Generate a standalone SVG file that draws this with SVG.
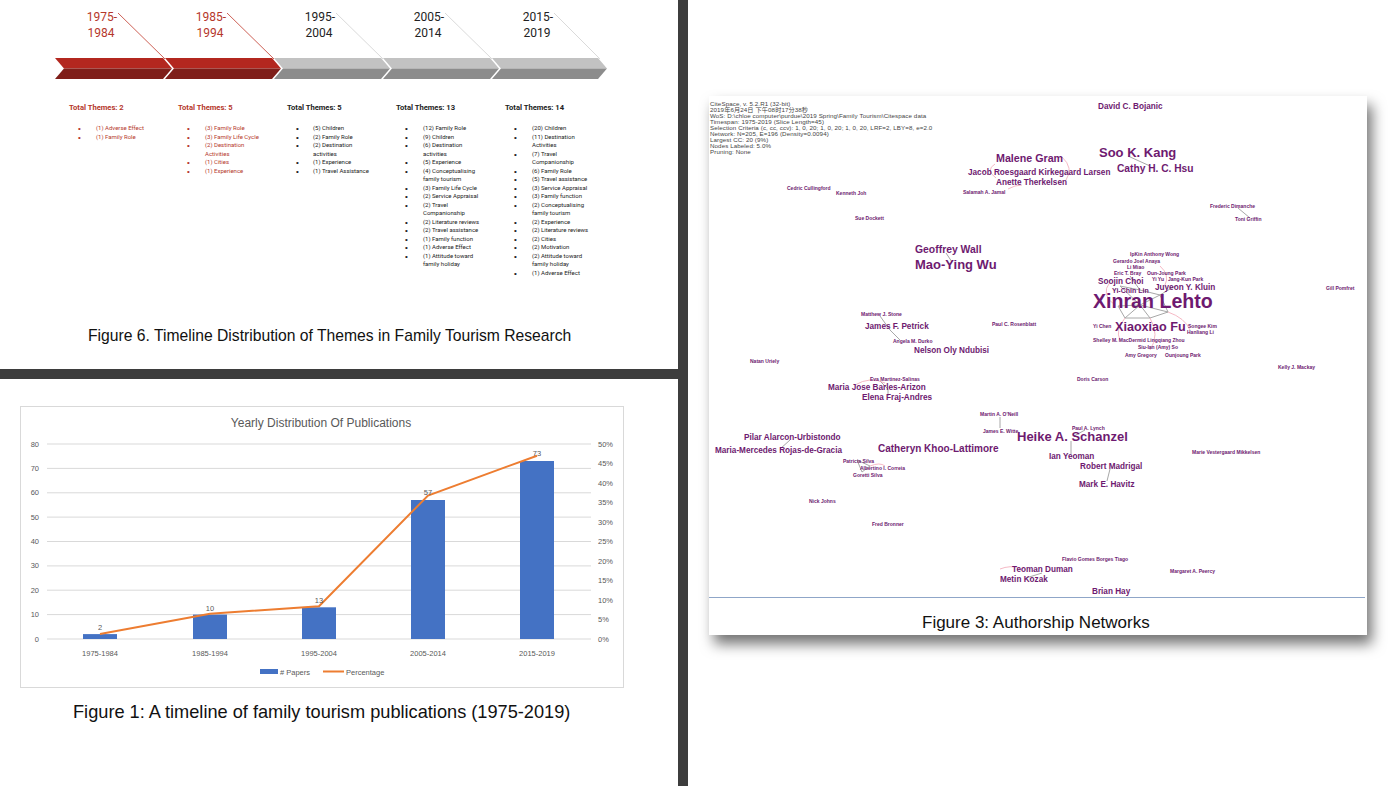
<svg xmlns="http://www.w3.org/2000/svg" width="1398" height="786" viewBox="0 0 1398 786">
<style>
.tl{font-family:Roboto,"Liberation Sans",sans-serif;font-size:12px;text-anchor:middle}
.red{fill:#b5372b}
.blk{fill:#222}
.th{font-family:Roboto,"Liberation Sans",sans-serif;font-size:7.6px;font-weight:bold}
.li{font-family:Roboto,"Liberation Sans",sans-serif;font-size:6px}
.bu{font-family:"Liberation Sans",sans-serif;font-size:8px}
.cap{font-family:"Liberation Sans",Arial,sans-serif;fill:#111}
.ax{font-family:"Liberation Sans",Arial,sans-serif;font-size:7.5px;fill:#595959}
.grid{stroke:#d9d9d9;stroke-width:1}
.hdr{font-family:"Liberation Sans","Noto Sans CJK SC",sans-serif;font-size:6.2px;fill:#444;letter-spacing:0.1px}
.nm{font-family:"Liberation Sans",Arial,sans-serif;font-weight:bold;fill:#6e1a70}
.n5{font-size:5px}
.n8{font-size:8.2px}
.n10{font-size:10.4px}
.n13{font-size:13px}
.ed{stroke:#a8a8a8;stroke-width:1;fill:none}
.pk{stroke:#f2a7b6;stroke-width:0.8;fill:none}
</style>
<defs>
<filter id="sh" x="-5%" y="-5%" width="112%" height="115%">
<feDropShadow dx="5" dy="9" stdDeviation="7" flood-color="#000" flood-opacity="0.55"/>
</filter>
</defs>
<rect x="0" y="0" width="1398" height="786" fill="#fff"/>
<rect x="678" y="0" width="10" height="786" fill="#3d3d3d"/>
<rect x="0" y="369" width="678" height="10" fill="#3d3d3d"/>

<g id="timeline">
<polygon points="55,58 163,58 172,68.5 64,68.5" fill="#b3271f"/>
<polygon points="64,68.5 172,68.5 163,79 55,79" fill="#7f1e19"/>
<polygon points="165,58 272,58 281,68.5 174,68.5" fill="#b3271f"/>
<polygon points="174,68.5 281,68.5 272,79 165,79" fill="#7f1e19"/>
<polygon points="274,58 381,58 390,68.5 283,68.5" fill="#c2c2c2"/>
<polygon points="283,68.5 390,68.5 381,79 274,79" fill="#8c8c8c"/>
<polygon points="383,58 490,58 499,68.5 392,68.5" fill="#c2c2c2"/>
<polygon points="392,68.5 499,68.5 490,79 383,79" fill="#8c8c8c"/>
<polygon points="492,58 598,58 607,68.5 501,68.5" fill="#c2c2c2"/>
<polygon points="501,68.5 607,68.5 598,79 492,79" fill="#8c8c8c"/>
<line x1="118" y1="13" x2="165" y2="59" stroke="#c0392b" stroke-width="0.8"/>
<line x1="227" y1="13" x2="274" y2="59" stroke="#c0392b" stroke-width="0.8"/>
<line x1="336" y1="13" x2="383" y2="59" stroke="#d0d0d0" stroke-width="0.8"/>
<line x1="445" y1="13" x2="492" y2="59" stroke="#d0d0d0" stroke-width="0.8"/>
<line x1="554" y1="13" x2="600" y2="59" stroke="#d0d0d0" stroke-width="0.8"/>
<text class="tl red" x="102" y="21">1975-</text><text class="tl red" x="101" y="37">1984</text>
<text class="tl red" x="211" y="21">1985-</text><text class="tl red" x="210" y="37">1994</text>
<text class="tl blk" x="320" y="21">1995-</text><text class="tl blk" x="319" y="37">2004</text>
<text class="tl blk" x="429" y="21">2005-</text><text class="tl blk" x="428" y="37">2014</text>
<text class="tl blk" x="538" y="21">2015-</text><text class="tl blk" x="537" y="37">2019</text>
</g>

<g id="themes1" class="red">
<text class="th" x="69" y="110">Total Themes: 2</text>
<g class="bu"><text x="78" y="131">•</text><text x="78" y="139.5">•</text></g>
<g class="li"><text x="96" y="130">(1) Adverse Effect</text>
<text x="96" y="138.5">(1) Family Role</text></g>
</g>
<g id="themes2" class="red">
<text class="th" x="178" y="110">Total Themes: 5</text>
<g class="bu"><text x="187" y="131">•</text><text x="187" y="139.5">•</text><text x="187" y="148">•</text><text x="187" y="165">•</text><text x="187" y="173.5">•</text></g>
<g class="li">
<text x="205" y="130">(3) Family Role</text>
<text x="205" y="138.5">(3) Family Life Cycle</text>
<text x="205" y="147">(2) Destination</text>
<text x="205" y="155.5">Activities</text>
<text x="205" y="164">(1) Cities</text>
<text x="205" y="172.5">(1) Experience</text></g>
</g>
<g id="themes3" class="blk">
<text class="th" x="287" y="110">Total Themes: 5</text>
<g class="bu"><text x="296" y="131">•</text><text x="296" y="139.5">•</text><text x="296" y="148">•</text><text x="296" y="165">•</text><text x="296" y="173.5">•</text></g>
<g class="li">
<text x="313" y="130">(5) Children</text>
<text x="313" y="138.5">(2) Family Role</text>
<text x="313" y="147">(2) Destination</text>
<text x="313" y="155.5">activities</text>
<text x="313" y="164">(1) Experience</text>
<text x="313" y="172.5">(1) Travel Assistance</text></g>
</g>
<g id="themes4" class="blk">
<text class="th" x="396" y="110">Total Themes: 13</text>
<g class="bu">
<text x="405" y="131">•</text><text x="405" y="139.5">•</text><text x="405" y="148">•</text>
<text x="405" y="165">•</text><text x="405" y="173.5">•</text><text x="405" y="190.5">•</text>
<text x="405" y="199">•</text><text x="405" y="207.5">•</text><text x="405" y="224.5">•</text>
<text x="405" y="233">•</text><text x="405" y="241.5">•</text><text x="405" y="250">•</text>
<text x="405" y="258.5">•</text></g>
<g class="li">
<text x="423" y="130">(12) Family Role</text>
<text x="423" y="138.5">(9) Children</text>
<text x="423" y="147">(6) Destination</text>
<text x="423" y="155.5">activities</text>
<text x="423" y="164">(5) Experience</text>
<text x="423" y="172.5">(4) Conceptualising</text>
<text x="423" y="181">family tourism</text>
<text x="423" y="189.5">(3) Family Life Cycle</text>
<text x="423" y="198">(2) Service Appraisal</text>
<text x="423" y="206.5">(2) Travel</text>
<text x="423" y="215">Companionship</text>
<text x="423" y="223.5">(2) Literature reviews</text>
<text x="423" y="232">(2) Travel assistance</text>
<text x="423" y="240.5">(1) Family function</text>
<text x="423" y="249">(1) Adverse Effect</text>
<text x="423" y="257.5">(1) Attitude toward</text>
<text x="423" y="266">family holiday</text></g>
</g>
<g id="themes5" class="blk">
<text class="th" x="505" y="110">Total Themes: 14</text>
<g class="bu">
<text x="514" y="131">•</text><text x="514" y="139.5">•</text><text x="514" y="156.5">•</text>
<text x="514" y="173.5">•</text><text x="514" y="182">•</text><text x="514" y="190.5">•</text>
<text x="514" y="199">•</text><text x="514" y="207.5">•</text><text x="514" y="224.5">•</text>
<text x="514" y="233">•</text><text x="514" y="241.5">•</text><text x="514" y="250">•</text>
<text x="514" y="258.5">•</text><text x="514" y="275.5">•</text></g>
<g class="li">
<text x="532" y="130">(20) Children</text>
<text x="532" y="138.5">(11) Destination</text>
<text x="532" y="147">Activities</text>
<text x="532" y="155.5">(7) Travel</text>
<text x="532" y="164">Companionship</text>
<text x="532" y="172.5">(6) Family Role</text>
<text x="532" y="181">(5) Travel assistance</text>
<text x="532" y="189.5">(3) Service Appraisal</text>
<text x="532" y="198">(3) Family function</text>
<text x="532" y="206.5">(2) Conceptualising</text>
<text x="532" y="215">family tourism</text>
<text x="532" y="223.5">(2) Experience</text>
<text x="532" y="232">(2) Literature reviews</text>
<text x="532" y="240.5">(2) Cities</text>
<text x="532" y="249">(2) Motivation</text>
<text x="532" y="257.5">(2) Attitude toward</text>
<text x="532" y="266">family holiday</text>
<text x="532" y="274.5">(1) Adverse Effect</text></g>
</g>
<text class="cap" x="88" y="341" font-size="15.7">Figure 6. Timeline Distribution of Themes in Family Tourism Research</text>

<g id="chart">
<rect x="20.5" y="406.5" width="603" height="281" fill="#fff" stroke="#d9d9d9"/>
<text x="321" y="427" font-family="'Liberation Sans',Arial,sans-serif" font-size="12" fill="#595959" text-anchor="middle">Yearly Distribution Of Publications</text>
<g class="grid">
<line x1="47" y1="444" x2="591" y2="444"/><line x1="47" y1="468.4" x2="591" y2="468.4"/>
<line x1="47" y1="492.8" x2="591" y2="492.8"/><line x1="47" y1="517.1" x2="591" y2="517.1"/>
<line x1="47" y1="541.5" x2="591" y2="541.5"/><line x1="47" y1="565.9" x2="591" y2="565.9"/>
<line x1="47" y1="590.2" x2="591" y2="590.2"/><line x1="47" y1="614.6" x2="591" y2="614.6"/>
<line x1="47" y1="639" x2="591" y2="639"/>
</g>
<g class="ax" text-anchor="end">
<text x="39" y="447">80</text><text x="39" y="471">70</text><text x="39" y="495">60</text>
<text x="39" y="520">50</text><text x="39" y="544">40</text><text x="39" y="568">30</text>
<text x="39" y="593">20</text><text x="39" y="617">10</text><text x="39" y="642">0</text>
</g>
<g class="ax">
<text x="598" y="447">50%</text><text x="598" y="466">45%</text><text x="598" y="486">40%</text>
<text x="598" y="505">35%</text><text x="598" y="525">30%</text><text x="598" y="544">25%</text>
<text x="598" y="564">20%</text><text x="598" y="583">15%</text><text x="598" y="603">10%</text>
<text x="598" y="622">5%</text><text x="598" y="642">0%</text>
</g>
<g fill="#4472c4">
<rect x="83" y="634.1" width="34" height="4.9"/>
<rect x="193" y="614.6" width="34" height="24.4"/>
<rect x="302" y="607.3" width="34" height="31.7"/>
<rect x="411" y="500" width="34" height="139"/>
<rect x="520" y="461" width="34" height="178"/>
</g>
<polyline points="100,634 210,613.7 319,606.3 428,495.5 537,455.7" fill="none" stroke="#ed7d31" stroke-width="2"/>
<g class="ax" text-anchor="middle" fill="#404040">
<text x="100" y="630">2</text><text x="210" y="611">10</text><text x="319" y="603">13</text>
<text x="428" y="495">57</text><text x="537" y="456">73</text>
</g>
<g class="ax" text-anchor="middle">
<text x="100" y="656">1975-1984</text><text x="210" y="656">1985-1994</text>
<text x="319" y="656">1995-2004</text><text x="428" y="656">2005-2014</text>
<text x="537" y="656">2015-2019</text>
</g>
<rect x="260" y="669" width="18" height="5" fill="#4472c4"/>
<text class="ax" x="280" y="674.5"># Papers</text>
<line x1="323" y1="671.5" x2="344" y2="671.5" stroke="#ed7d31" stroke-width="2"/>
<text class="ax" x="346" y="674.5">Percentage</text>
</g>
<text class="cap" x="73" y="718" font-size="18.2">Figure 1: A timeline of family tourism publications (1975-2019)</text>

<rect x="709" y="96" width="658" height="539" fill="#fff" filter="url(#sh)"/>
<line x1="709" y1="597.5" x2="1365" y2="597.5" stroke="#8fa6c8" stroke-width="1.2"/>
<text class="cap" x="922" y="628" font-size="17">Figure 3: Authorship Networks</text>
<g id="header" class="hdr">
<text x="710" y="106">CiteSpace, v. 5.2.R1 (32-bit)</text>
<text x="710" y="112">2019年6月24日 下午08时17分38秒</text>
<text x="710" y="118">WoS: D:\chloe computer\purdue\2019 Spring\Family Tourism\Citespace data</text>
<text x="710" y="124">Timespan: 1975-2019 (Slice Length=45)</text>
<text x="710" y="130">Selection Criteria (c, cc, ccv): 1, 0, 20; 1, 0, 20; 1, 0, 20, LRF=2, LBY=8, e=2.0</text>
<text x="710" y="136">Network: N=205, E=196 (Density=0.0094)</text>
<text x="710" y="142">Largest CC: 20 (9%)</text>
<text x="710" y="148">Nodes Labeled: 5.0%</text>
<text x="710" y="154">Pruning: None</text>
</g>

<g id="edges">
<line class="ed" x1="1128" y1="156" x2="1150" y2="166"/>
<path class="pk" d="M1062,157 Q1074,168 1066,180"/>
<path class="pk" d="M995,164 Q985,170 996,178"/>
<path class="pk" d="M1008,189 Q1015,185 1022,185"/>
<line class="ed" x1="946" y1="253" x2="952" y2="262"/>
<line class="ed" x1="1238" y1="208" x2="1250" y2="218"/>
<polyline class="ed" points="880,316 890,330 900,340"/>
<polyline class="ed" points="880,381 888,389 888,396"/>
<path class="pk" d="M855,385 Q870,376 885,383"/>
<line class="ed" x1="790" y1="440" x2="780" y2="449"/>
<line class="ed" x1="1000" y1="417" x2="1000" y2="428"/>
<line class="ed" x1="1085" y1="430" x2="1074" y2="436"/>
<line class="ed" x1="1071" y1="441" x2="1071" y2="454"/>
<line class="ed" x1="1110" y1="469" x2="1107" y2="481"/>
<polygon class="ed" points="857,460 870,466 862,472"/>
<path class="pk" d="M870,466 Q880,462 885,466"/>
<line class="ed" x1="1042" y1="573" x2="1026" y2="578"/>
<path class="pk" d="M1000,569 Q1010,565 1020,568"/>
<g class="ed" stroke-width="0.8">
<polyline points="1120,286 1140,290 1160,295 1140,305 1120,286"/>
<polyline points="1118,306 1140,305 1125,318 1118,306"/>
<polyline points="1140,305 1150,318 1168,312 1160,295"/>
<polyline points="1140,305 1168,312"/>
<polyline points="1125,318 1150,318"/>
<line x1="1140" y1="290" x2="1130" y2="276"/>
<line x1="1160" y1="295" x2="1175" y2="286"/>
</g>
<g class="pk">
<path d="M1110,282 Q1100,295 1115,305"/>
<path d="M1168,312 Q1185,318 1190,330"/>
<path d="M1125,318 Q1115,330 1120,340"/>
<path d="M1150,318 Q1160,335 1150,350"/>
<path d="M1160,266 Q1170,275 1165,285"/>
</g>
</g>

<g id="nodes" class="nm">
<text class="n8" x="1098" y="109">David C. Bojanic</text>
<text x="996" y="162" font-size="10.7">Malene Gram</text>
<text class="n13" x="1099" y="157">Soo K. Kang</text>
<text class="n8" x="968" y="175">Jacob Roesgaard Kirkegaard Larsen</text>
<text x="1117" y="172" font-size="10.2">Cathy H. C. Hsu</text>
<text class="n8" x="996" y="185">Anette Therkelsen</text>
<text class="n5" x="963" y="194">Salamah A. Jamal</text>
<text class="n5" x="787" y="190">Cedric Cullingford</text>
<text class="n5" x="836" y="195">Kenneth Joh</text>
<text class="n5" x="855" y="220">Sue Dockett</text>
<text class="n5" x="1210" y="208">Frederic Dimanche</text>
<text class="n5" x="1235" y="221">Toni Griffin</text>
<text class="n10" x="915" y="253">Geoffrey Wall</text>
<text class="n13" x="915" y="269">Mao-Ying Wu</text>
<text class="n5" x="1130" y="256">IpKin Anthony Wong</text>
<text class="n5" x="1113" y="262.5">Gerardo Joel Anaya</text>
<text class="n5" x="1127" y="268.5">Li Miao</text>
<text class="n5" x="1114" y="275">Eric T. Bray</text>
<text class="n5" x="1147" y="274.5">Oun-Joung Park</text>
<text class="n5" x="1152" y="280.5">Yi Yu</text>
<text class="n5" x="1168" y="280.5">Jang-Kun Park</text>
<text class="n8" x="1098" y="283.5">Soojin Choi</text>
<text class="n8" x="1155" y="289.5">Juyeon Y. Kluin</text>
<text x="1112" y="292.5" font-size="7">Yi-Chin Lin</text>
<text x="1093" y="308" font-size="19.6">Xinran Lehto</text>
<text class="n5" x="1326" y="290">Gill Pomfret</text>
<text class="n5" x="861" y="316">Matthew J. Stone</text>
<text class="n8" x="865" y="329">James F. Petrick</text>
<text class="n5" x="992" y="326">Paul C. Rosenblatt</text>
<text class="n5" x="1093" y="328">Yi Chen</text>
<text x="1115" y="331" font-size="12.6">Xiaoxiao Fu</text>
<text class="n5" x="1188" y="328">Songee Kim</text>
<text class="n5" x="1187" y="334">Hanliang Li</text>
<text class="n5" x="1093" y="342">Shelley M. MacDermid Lingqiang Zhou</text>
<text class="n5" x="1138" y="349">Siu-Ian (Amy) So</text>
<text class="n5" x="1125" y="357">Amy Gregory</text>
<text class="n5" x="1165" y="357">Ounjoung Park</text>
<text class="n5" x="893" y="343">Angela M. Durko</text>
<text class="n8" x="914" y="353">Nelson Oly Ndubisi</text>
<text class="n5" x="750" y="363">Natan Uriely</text>
<text class="n5" x="1278" y="369">Kelly J. Mackay</text>
<text class="n5" x="870" y="381">Eva Martinez-Salinas</text>
<text class="n8" x="828" y="390">Maria Jose Barles-Arizon</text>
<text class="n5" x="1077" y="381">Doris Carson</text>
<text class="n8" x="862" y="400">Elena Fraj-Andres</text>
<text class="n5" x="980" y="416">Martin A. O'Neill</text>
<text class="n5" x="1072" y="430">Paul A. Lynch</text>
<text class="n5" x="983" y="433">James E. Witte</text>
<text class="n8" x="744" y="440">Pilar Alarcon-Urbistondo</text>
<text class="n13" x="1017" y="441">Heike A. Schanzel</text>
<text class="n8" x="715" y="453">Maria-Mercedes Rojas-de-Gracia</text>
<text x="878" y="452" font-size="10">Catheryn Khoo-Lattimore</text>
<text class="n5" x="1192" y="454">Marie Vestergaard Mikkelsen</text>
<text class="n8" x="1049" y="459">Ian Yeoman</text>
<text class="n5" x="843" y="463">Patricia Silva</text>
<text class="n8" x="1080" y="469">Robert Madrigal</text>
<text class="n5" x="860" y="470">Albertino I. Correia</text>
<text class="n5" x="853" y="477">Goretti Silva</text>
<text class="n8" x="1079" y="487">Mark E. Havitz</text>
<text class="n5" x="809" y="503">Nick Johns</text>
<text class="n5" x="872" y="526">Fred Bronner</text>
<text class="n5" x="1062" y="561">Flavio Gomes Borges Tiago</text>
<text class="n8" x="1012" y="572">Teoman Duman</text>
<text class="n5" x="1170" y="573">Margaret A. Peercy</text>
<text class="n8" x="1000" y="582">Metin Kozak</text>
<text class="n8" x="1092" y="594">Brian Hay</text>
</g>
</svg>
